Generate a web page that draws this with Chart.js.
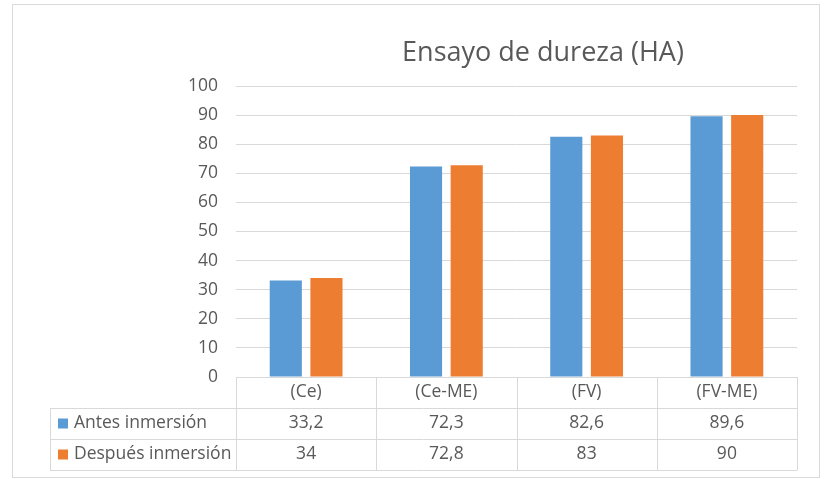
<!DOCTYPE html>
<html>
<head>
<meta charset="utf-8">
<script src="https://cdn.jsdelivr.net/npm/chart.js@4"></script>
<style>
  html, body { margin: 0; padding: 0; background: #fff; }
  #wrap { width: 825px; height: 479px; position: relative; }
</style>
</head>
<body>
<div id="wrap"><canvas id="durezaChart" width="825" height="479"></canvas></div>
<script>
// ---- data ----
const categories = ["(Ce)", "(Ce-ME)", "(FV)", "(FV-ME)"];
const antesValues = [33.2, 72.3, 82.6, 89.6];
const despuesValues = [34, 72.8, 83, 90];
const seriesNames = ["Antes inmersión", "Después inmersión"];
const chartTitle = "Ensayo de dureza (HA)";

const FONT = "'Open Sans', 'Noto Sans', sans-serif";
const TEXT = "#595959";
const LINE = "#d9d9d9";
const BLUE = "#5B9BD5";
const ORANGE = "#ED7D31";

const fmt = v => String(v).replace(".", ",");

// frame, title and data table under the plot
const tablePlugin = {
  id: "dataTable",
  beforeDraw(chart) {
    const { ctx } = chart;
    ctx.save();
    ctx.fillStyle = "#fff";
    ctx.fillRect(0, 0, chart.width, chart.height);
    ctx.strokeStyle = LINE;
    ctx.lineWidth = 1;
    ctx.strokeRect(12.5, 4.5, 807, 473);
    ctx.restore();
  },
  afterDraw(chart) {
    const { ctx, chartArea } = chart;
    const xs = chart.scales.x;
    const left = chartArea.left, right = chartArea.right, top = chartArea.bottom;
    const tableLeft = 50;
    const rowH = 31;
    const rows = [top, top + rowH, top + rowH * 2, top + rowH * 3];

    ctx.save();
    // title
    ctx.fillStyle = TEXT;
    ctx.font = "27px " + FONT;
    ctx.textAlign = "center";
    ctx.textBaseline = "middle";
    ctx.fillText(chartTitle, 543, 53);

    // grid of the table
    ctx.strokeStyle = LINE;
    ctx.lineWidth = 1;
    ctx.beginPath();
    ctx.moveTo(tableLeft, rows[1] + 0.5); ctx.lineTo(right, rows[1] + 0.5);
    ctx.moveTo(tableLeft, rows[2] + 0.5); ctx.lineTo(right, rows[2] + 0.5);
    ctx.moveTo(tableLeft, rows[3] + 0.5); ctx.lineTo(right, rows[3] + 0.5);
    ctx.moveTo(tableLeft + 0.5, rows[1]); ctx.lineTo(tableLeft + 0.5, rows[3]);
    const step = (right - left) / categories.length;
    for (let i = 0; i <= categories.length; i++) {
      const x = Math.round(left + step * i) + 0.5;
      ctx.moveTo(x, top); ctx.lineTo(x, rows[3]);
    }
    ctx.stroke();

    // category labels + values
    ctx.font = "17.5px " + FONT;
    ctx.fillStyle = TEXT;
    const series = [antesValues, despuesValues];
    categories.forEach((c, i) => {
      const cx = xs.getPixelForValue(i);
      ctx.fillText(c, cx, rows[0] + rowH / 2);
      series.forEach((s, j) => {
        ctx.fillText(fmt(s[i]), cx, rows[j + 1] + rowH / 2);
      });
    });

    // legend keys
    ctx.textAlign = "left";
    [BLUE, ORANGE].forEach((col, j) => {
      const cy = rows[j + 1] + rowH / 2;
      ctx.fillStyle = col;
      ctx.fillRect(58, cy - 5, 10, 10);
      ctx.fillStyle = TEXT;
      ctx.fillText(seriesNames[j], 74, cy);
    });
    ctx.restore();
  }
};

const ctx = document.getElementById("durezaChart").getContext("2d");
new Chart(ctx, {
  type: "bar",
  data: {
    labels: categories,
    datasets: [
      { label: seriesNames[0], data: antesValues, backgroundColor: BLUE },
      { label: seriesNames[1], data: despuesValues, backgroundColor: ORANGE }
    ]
  },
  options: {
    responsive: false,
    animation: false,
    events: [],
    layout: { padding: { top: 86, right: 28, bottom: 94, left: 0 } },
    datasets: { bar: { categoryPercentage: 0.58, barPercentage: 0.79 } },
    plugins: {
      legend: { display: false },
      title: { display: false },
      tooltip: { enabled: false }
    },
    scales: {
      x: {
        ticks: { display: false },
        grid: { display: false },
        border: { display: false }
      },
      y: {
        min: 0,
        max: 100,
        afterFit(scale) { scale.width = 236; },
        ticks: { stepSize: 10, padding: 18, color: TEXT, font: { family: FONT, size: 17.5 } },
        grid: { color: LINE, drawTicks: false },
        border: { display: false }
      }
    }
  },
  plugins: [tablePlugin]
});
</script>
</body>
</html>
